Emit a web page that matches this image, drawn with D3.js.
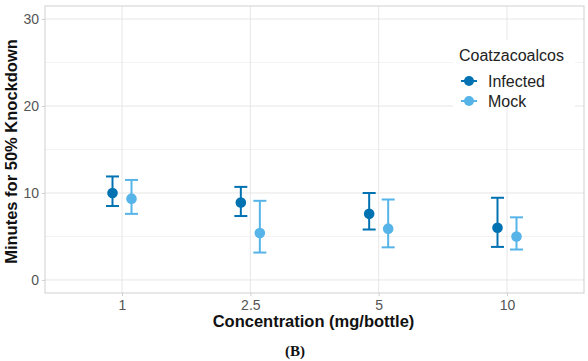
<!DOCTYPE html>
<html>
<head>
<meta charset="utf-8">
<script src="https://cdn.jsdelivr.net/npm/d3@7"></script>
<style>
  body { margin: 0; background: #fff; }
  svg { display: block; font-family: "Liberation Sans", Arial, sans-serif; }
</style>
</head>
<body>
<div id="chart"></div>
<script>
var width = 588, height = 361

// data
var concentrations = ['1', '2.5', '5', '10']
var groups = ['Infected', 'Mock']
var infectedMean = [10.0, 8.9, 7.6, 6.0]
var infectedLow = [8.5, 7.35, 5.8, 3.8]
var infectedHigh = [11.9, 10.7, 10.0, 9.45]
var mockMean = [9.35, 5.4, 5.9, 5.0]
var mockLow = [7.6, 3.15, 3.75, 3.5]
var mockHigh = [11.5, 9.1, 9.25, 7.2]
var yTicks = [0, 10, 20, 30]
var yMinor = [5, 15, 25]

var colors = { Infected: '#0072B2', Mock: '#56B4E9' }

var panel = { left: 45, right: 584, top: 6, bottom: 293 }

var svg = d3.select('#chart').append('svg')
  .attr('width', width)
  .attr('height', height)

var xScale = d3.scalePoint()
  .domain(concentrations)
  .range([panel.left, panel.right])
  .padding(0.6)

var dodge = d3.scalePoint()
  .domain(groups)
  .range([-9.5, 9.5])

var yScale = d3.scaleLinear()
  .domain([-1.5, 31.5])
  .range([panel.bottom, panel.top])

// minor grid
svg.append('g')
  .selectAll('line')
  .data(yMinor)
  .enter().append('line')
  .attr('x1', panel.left).attr('x2', panel.right)
  .attr('y1', d => yScale(d)).attr('y2', d => yScale(d))
  .style('stroke', '#f0f0f0')
  .style('stroke-width', 0.8)

// major grid
svg.append('g')
  .selectAll('line')
  .data(yTicks)
  .enter().append('line')
  .attr('x1', panel.left).attr('x2', panel.right)
  .attr('y1', d => yScale(d)).attr('y2', d => yScale(d))
  .style('stroke', '#e6e6e6')
  .style('stroke-width', 1)

svg.append('g')
  .selectAll('line')
  .data(concentrations)
  .enter().append('line')
  .attr('x1', d => xScale(d)).attr('x2', d => xScale(d))
  .attr('y1', panel.top).attr('y2', panel.bottom)
  .style('stroke', '#e6e6e6')
  .style('stroke-width', 1)

// panel border
svg.append('rect')
  .attr('x', panel.left).attr('y', panel.top)
  .attr('width', panel.right - panel.left)
  .attr('height', panel.bottom - panel.top)
  .style('fill', 'none')
  .style('stroke', '#cfcfcf')
  .style('stroke-width', 1)

// axes
var yAxis = d3.axisLeft(yScale).tickValues(yTicks).tickSize(3).tickPadding(3)
var gy = svg.append('g')
  .attr('transform', `translate(${panel.left},0)`)
  .call(yAxis)
gy.select('.domain').remove()
gy.selectAll('.tick line').style('stroke', '#cfcfcf')
gy.selectAll('.tick text').style('font-size', '14px').style('fill', '#555')

var xAxis = d3.axisBottom(xScale).tickSize(3).tickPadding(4)
var gx = svg.append('g')
  .attr('transform', `translate(0,${panel.bottom})`)
  .call(xAxis)
gx.select('.domain').remove()
gx.selectAll('.tick line').style('stroke', '#cfcfcf')
gx.selectAll('.tick text').style('font-size', '14px').style('fill', '#555')

// axis titles
svg.append('text')
  .attr('text-anchor', 'middle')
  .attr('transform', `translate(17,${(panel.top + panel.bottom) / 2 + 2}) rotate(-90)`)
  .style('font-size', '16.5px')
  .style('font-weight', 'bold')
  .style('fill', '#111')
  .text('Minutes for 50% Knockdown')

svg.append('text')
  .attr('text-anchor', 'middle')
  .attr('x', (panel.left + panel.right) / 2 - 1)
  .attr('y', 327)
  .style('font-size', '16.5px')
  .style('font-weight', 'bold')
  .style('fill', '#111')
  .text('Concentration (mg/bottle)')

svg.append('text')
  .attr('text-anchor', 'middle')
  .attr('x', 295)
  .attr('y', 356)
  .style('font-family', '"Liberation Serif", "Times New Roman", serif')
  .style('font-size', '15px')
  .style('font-weight', 'bold')
  .style('fill', '#111')
  .text('(B)')

// series
var series = [
  { name: 'Infected', mean: infectedMean, low: infectedLow, high: infectedHigh },
  { name: 'Mock', mean: mockMean, low: mockLow, high: mockHigh }
]

series.forEach(function(s) {
  var rows = concentrations.map((c, i) => ({ c: c, mean: s.mean[i], low: s.low[i], high: s.high[i] }))
  var g = svg.append('g')
    .style('stroke', colors[s.name])
    .style('fill', colors[s.name])
  var cx = d => xScale(d.c) + dodge(s.name)

  g.selectAll('.vbar').data(rows).enter().append('line')
    .attr('x1', cx).attr('x2', cx)
    .attr('y1', d => yScale(d.low)).attr('y2', d => yScale(d.high))
    .style('stroke-width', 2)
  g.selectAll('.cap-top').data(rows).enter().append('line')
    .attr('x1', d => cx(d) - 6.5).attr('x2', d => cx(d) + 6.5)
    .attr('y1', d => yScale(d.high)).attr('y2', d => yScale(d.high))
    .style('stroke-width', 2)
  g.selectAll('.cap-bot').data(rows).enter().append('line')
    .attr('x1', d => cx(d) - 6.5).attr('x2', d => cx(d) + 6.5)
    .attr('y1', d => yScale(d.low)).attr('y2', d => yScale(d.low))
    .style('stroke-width', 2)
  g.selectAll('circle').data(rows).enter().append('circle')
    .attr('cx', cx)
    .attr('cy', d => yScale(d.mean))
    .attr('r', 5.3)
    .style('stroke', 'none')
})

// legend
var legend = svg.append('g')
legend.append('rect')
  .attr('x', 453).attr('y', 40)
  .attr('width', 122).attr('height', 67)
  .style('fill', '#fff')

legend.append('text')
  .attr('x', 459).attr('y', 61)
  .style('font-size', '16px')
  .style('fill', '#222')
  .text('Coatzacoalcos')

groups.forEach(function(name, i) {
  var y = 81 + i * 20
  legend.append('line')
    .attr('x1', 461).attr('x2', 477)
    .attr('y1', y).attr('y2', y)
    .style('stroke', colors[name])
    .style('stroke-width', 2)
  legend.append('circle')
    .attr('cx', 469).attr('cy', y)
    .attr('r', 5)
    .style('fill', colors[name])
  legend.append('text')
    .attr('x', 488).attr('y', y + 5.5)
    .style('font-size', '16px')
    .style('fill', '#222')
    .text(name)
})
</script>
</body>
</html>
